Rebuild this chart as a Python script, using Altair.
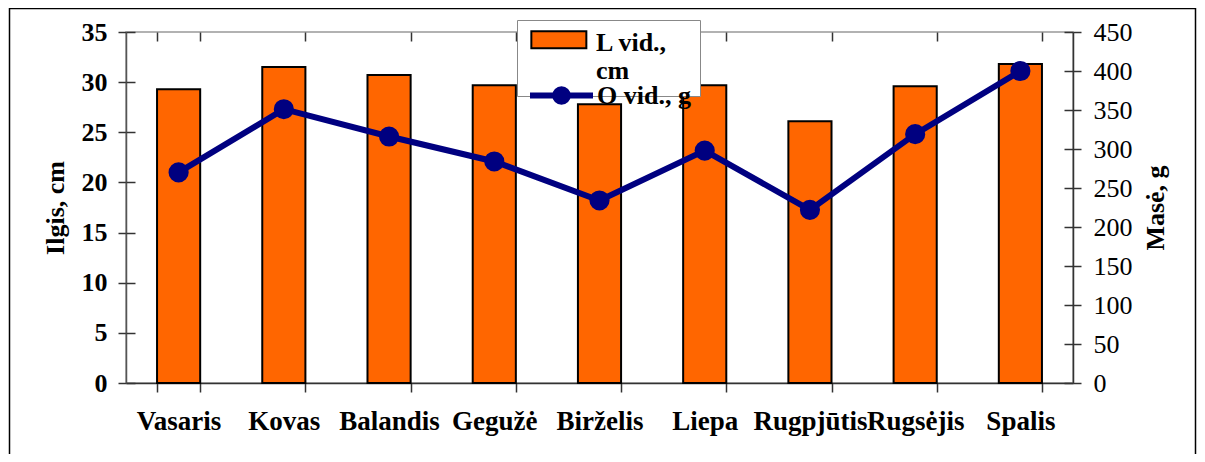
import altair as alt
import pandas as pd

# ---- data ----
months = ["Vasaris", "Kovas", "Balandis", "Gegužė", "Birželis", "Liepa", "Rugpjūtis", "Rugsėjis", "Spalis"]
length_cm = [29.3, 31.5, 30.7, 29.7, 27.8, 29.7, 26.1, 29.6, 31.8]
mass_g = [270, 351, 316, 284, 234, 298, 222, 319, 400]
left_ticks = [0, 5, 10, 15, 20, 25, 30, 35]
right_ticks = [0, 50, 100, 150, 200, 250, 300, 350, 400, 450]
bar_series = "L vid., cm"
line_series = "O vid., g"

df = pd.DataFrame({"month": months, "L": length_cm, "O": mass_g,
                   "ls": bar_series, "os": line_series})

W, H = 947, 351
FONT = "Liberation Serif"
FS = 26
AX = "#333333"

x_scale = alt.Scale(domain=months, paddingInner=0.59, paddingOuter=0.295)
yl_scale = alt.Scale(domain=[0, 35], nice=False, zero=True)
yr_scale = alt.Scale(domain=[0, 450], nice=False, zero=True)

frame = alt.Chart(pd.DataFrame({"a": [0]})).mark_rect(
    filled=False, stroke="black", strokeWidth=1.5
).encode(x=alt.value(-116.5), x2=alt.value(1069.5), y=alt.value(-23.5), y2=alt.value(600))

bars = alt.Chart(df).mark_bar(stroke="black", strokeWidth=2).encode(
    x=alt.X("month:N", sort=months, scale=x_scale,
            axis=alt.Axis(title=None, labelFont=FONT, labelFontSize=27, labelFontWeight="bold",
                          labelColor="black", labelAngle=0, labelPadding=16, tickBand="extent",
                          tickSize=9, tickColor=AX, domainColor=AX, domainWidth=1.5, tickWidth=1.5,
                          labelLimit=300)),
    y=alt.Y("L:Q", scale=yl_scale,
            axis=alt.Axis(orient="left", values=left_ticks, title="Ilgis, cm", titleFont=FONT,
                          titleFontSize=FS, titleFontWeight="bold", titleColor="black",
                          titleAngle=270, titleX=-71, titleY=H / 2, titleBaseline="middle",
                          titleAlign="center", labelFont=FONT, labelFontSize=FS,
                          labelFontWeight="bold", labelColor="black", labelPadding=11,
                          tickSize=8, tickColor=AX, domainColor="#555555", domainWidth=1.5,
                          tickWidth=1.5, grid=False)),
    fill=alt.Fill("ls:N", scale=alt.Scale(domain=[bar_series], range=["#FF6600"]),
                  legend=alt.Legend(orient="none", legendX=391, legendY=-12, title=None,
                                    symbolType="M-0.94,-1.12H2.26V-0.13H-0.94Z", symbolSize=1182,
                                    symbolStrokeColor="black", symbolStrokeWidth=2,
                                    labelFont=FONT, labelFontSize=FS, labelFontWeight="bold",
                                    labelColor="black",
                                    labelExpr="['L vid.,\u00a0\u00a0\u00a0\u200b', 'cm']",
                                    labelBaseline="alphabetic", labelOffset=30, padding=12,
                                    fillColor="white", strokeColor="#888888")),
)

tin_l = alt.Chart(df).mark_point(opacity=0).encode(
    x=alt.X("month:N", sort=months, scale=x_scale,
            axis=alt.Axis(title=None, offset=-9, labels=False, domain=False, tickSize=9,
                          tickBand="extent", tickColor=AX, tickWidth=1.5)),
    y=alt.Y("L:Q", scale=yl_scale,
            axis=alt.Axis(orient="left", values=left_ticks, title=None, offset=-9, labels=False,
                          domain=False, tickSize=9, tickColor=AX, tickWidth=1.5, grid=False)),
)

tin_r = alt.Chart(df).mark_point(opacity=0).encode(
    x=alt.X("month:N", sort=months, scale=x_scale, axis=None),
    y=alt.Y("O:Q", scale=yr_scale,
            axis=alt.Axis(orient="right", values=right_ticks, title=None, offset=-9, labels=False,
                          domain=False, tickSize=9, tickColor=AX, tickWidth=1.5, grid=False)),
)

line = alt.Chart(df).mark_line(
    strokeWidth=6, point=alt.OverlayMarkDef(filled=True, size=330, fill="#000080")
).encode(
    x=alt.X("month:N", sort=months, scale=x_scale, axis=None),
    y=alt.Y("O:Q", scale=yr_scale,
            axis=alt.Axis(orient="right", values=right_ticks, title="Masė, g", titleFont=FONT,
                          titleFontSize=FS, titleFontWeight="bold", titleColor="black",
                          titleAngle=270, titleX=82, titleY=H / 2, titleBaseline="middle",
                          titleAlign="center", labelFont=FONT, labelFontSize=FS,
                          labelColor="black", labelPadding=12, tickSize=8, tickColor=AX,
                          domainColor=AX, domainWidth=1.5, tickWidth=1.5, grid=False)),
    stroke=alt.Stroke("os:N", scale=alt.Scale(domain=[line_series], range=["#000080"]),
                      legend=alt.Legend(orient="none", legendX=401, legendY=29, title=None,
                                        symbolType="M-1,0H1M0.2,0A0.2,0.2,0,1,1,-0.2,0A0.2,0.2,0,1,1,0.2,0Z",
                                        symbolSize=3969, symbolStrokeWidth=6,
                                        symbolFillColor="#000080", labelFont=FONT,
                                        labelFontSize=FS, labelFontWeight="bold",
                                        labelColor="black", labelOffset=1, padding=0)),
)

chart = alt.layer(frame, bars, tin_l, tin_r, line).resolve_scale(
    y="independent", fill="independent", stroke="independent"
).resolve_axis(x="independent").properties(
    width=W, height=H,
    autosize=alt.AutoSizeParams(type="none"),
    padding={"left": 118, "top": 24, "right": 124, "bottom": 71},
).configure_view(stroke="#999999", strokeWidth=1.5)

chart.save("out.html", embed_options={"renderer": "svg", "actions": False})
